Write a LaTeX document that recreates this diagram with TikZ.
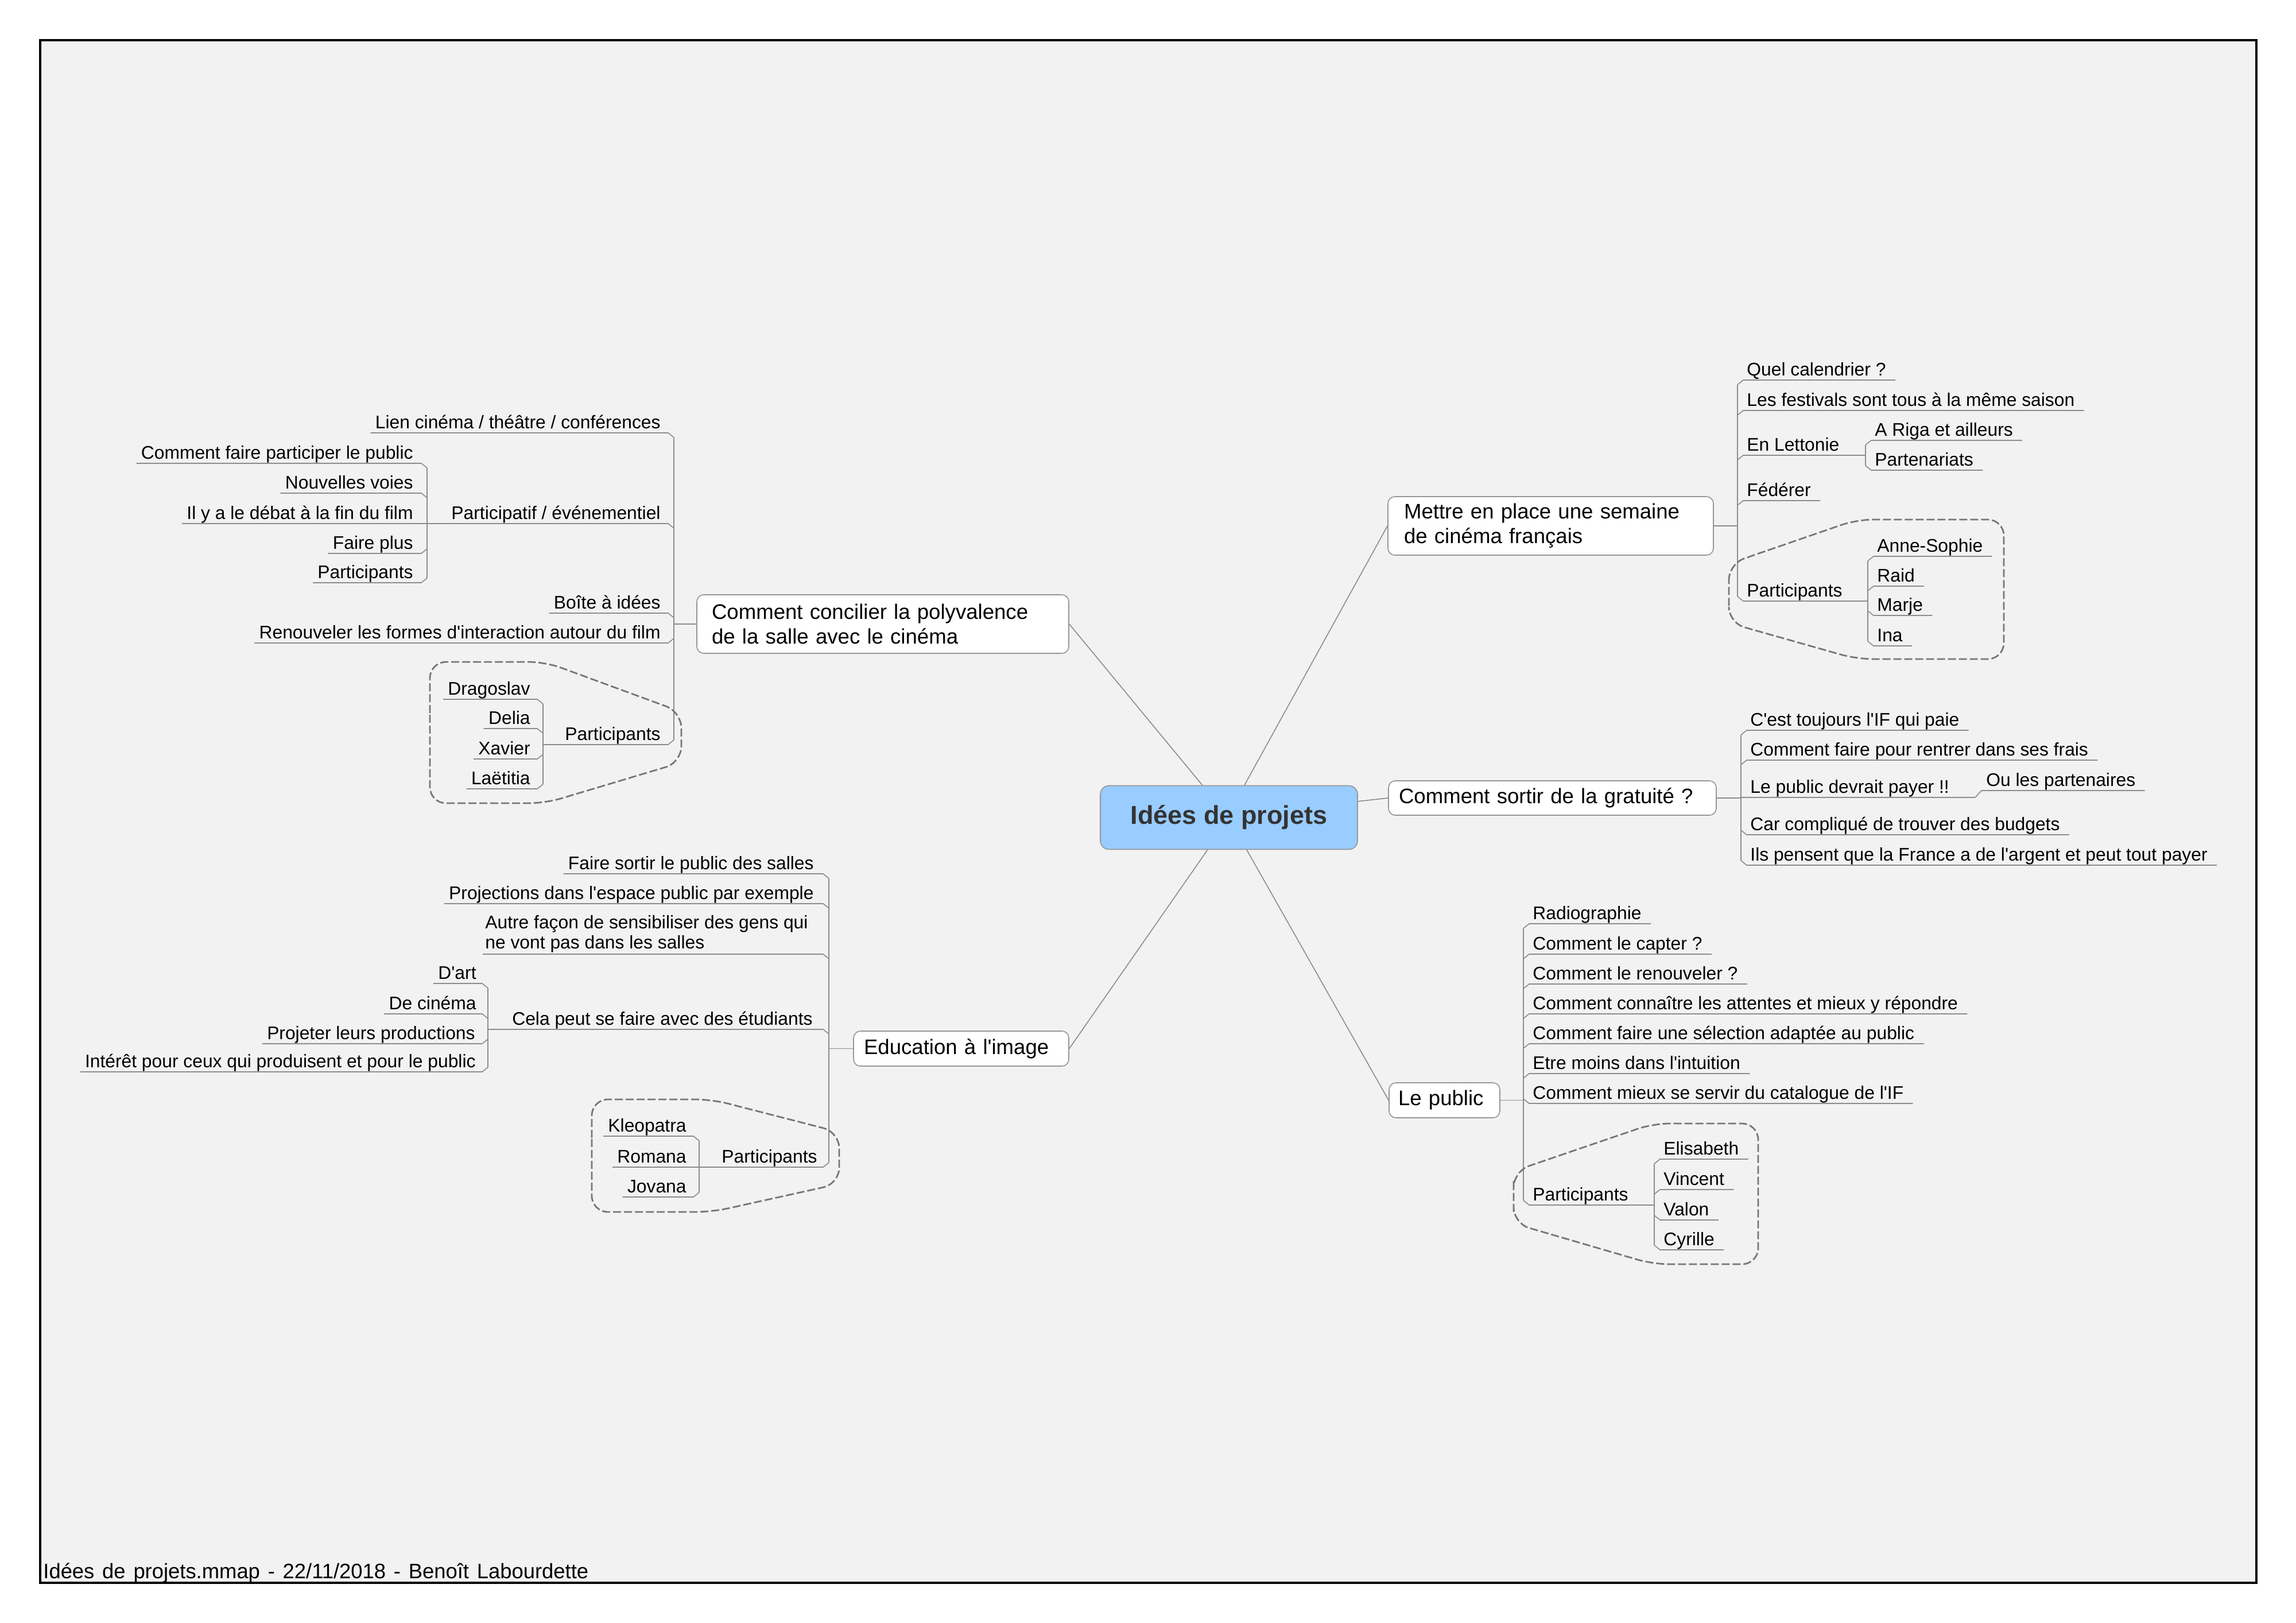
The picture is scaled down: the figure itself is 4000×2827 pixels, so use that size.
\documentclass[tikz,border=0pt]{standalone}
\usepackage{fontspec}
\setmainfont{Liberation Sans}
\usetikzlibrary{calc}
\definecolor{bgc}{RGB}{242,242,242}
\definecolor{linec}{RGB}{140,140,140}
\definecolor{boxc}{RGB}{150,150,150}
\definecolor{centerfill}{RGB}{153,204,255}
\definecolor{centertext}{RGB}{51,51,51}
\definecolor{dashc}{RGB}{118,118,118}
\newcommand\myap{\textquotesingle}
% right-side leaf: name, trunk x, underline y, sign, text
\newcommand\RLeaf[5]{%
  \node[leaf,anchor=base west] (#1) at ({#2+16},{#3-8}) {#5};
  \coordinate (#1-t) at ({#2},{#3+8*(#4)});
  \draw[conn] (#1-t) -- ({#2+10*abs(#4)},{#3}) -- ($(#1.base east)+(16,8)$);
}
\newcommand\RLeafTo[6]{%
  \node[leaf,anchor=base west] (#1) at ({#2+16},{#3-8}) {#5};
  \coordinate (#1-t) at ({#2},{#3+8*(#4)});
  \coordinate (#1-e) at ({#6},{#3});
  \draw[conn] (#1-t) -- ({#2+10*abs(#4)},{#3}) -- (#1-e);
}
% left-side leaf: name, trunk x, gap, underline y, sign, text
\newcommand\LLeaf[6]{%
  \node[leaf,anchor=base east] (#1) at ({#2-#3},{#4-8}) {#6};
  \coordinate (#1-t) at ({#2},{#4+8*(#5)});
  \draw[conn] (#1-t) -- ({#2-10*abs(#5)},{#4}) -- ($(#1.base west)+(-8,8)$);
}
\newcommand\LLeafTo[7]{%
  \node[leaf,anchor=base east] (#1) at ({#2-#3},{#4-8}) {#6};
  \coordinate (#1-t) at ({#2},{#4+8*(#5)});
  \coordinate (#1-e) at ({#7},{#4});
  \draw[conn] (#1-t) -- ({#2-10*abs(#5)},{#4}) -- (#1-e);
}
\tikzset{
  conn/.style={draw=linec, line width=0.8pt},
  leaf/.style={inner sep=0pt, font=\fontsize{15.9}{17.5}\selectfont, text=black},
  topic/.style={draw=boxc, fill=white, rounded corners=6pt, line width=0.8pt,
    font=\fontsize{18.3}{21.5}\selectfont, align=left, inner ysep=0pt, text=black},
  central/.style={draw=boxc, fill=centerfill, rounded corners=7.5pt, line width=0.8pt,
    font=\fontsize{22.5}{27}\selectfont\bfseries, text=centertext, align=center,
    minimum width=224pt, minimum height=55.5pt, inner sep=0pt},
  group/.style={draw=dashc, line width=1.4pt, dash pattern=on 7pt off 2.5pt, rounded corners=14pt}
}
\begin{document}
\begin{tikzpicture}[x=0.5pt,y=-0.5pt]
\useasboundingbox (0,0) rectangle (4000,2827);
\fill[white] (0,0) rectangle (4000,2827);
\draw[line width=2pt, fill=bgc] (70,70) rectangle (3931,2757);

% central and main topics
\node[central] (c) at (2141,1424) {Idées de projets};
\node[topic, minimum width=324pt, minimum height=51pt, inner xsep=13pt, text width=298pt] (t1) at (1538,1087)
  {Comment concilier la polyvalence\\de la salle avec le cinéma};
\node[topic, minimum width=283.5pt, minimum height=51pt, inner xsep=14pt, text width=255.5pt] (t2) at (2701.5,916)
  {Mettre en place une semaine\\de cinéma français};
\node[topic, minimum width=285.5pt, minimum height=30pt, inner xsep=9pt, text width=267.5pt] (t3) at (2704.5,1390)
  {Comment sortir de la gratuité ?};
\node[topic, minimum width=96.5pt, minimum height=30.5pt, inner xsep=8pt, text width=80.5pt] (t4) at (2516.5,1916.5)
  {Le public};
\node[topic, minimum width=187.5pt, minimum height=30.5pt, inner xsep=9pt, text width=169.5pt] (t5) at (1674.5,1826.5)
  {Education à l\myap image};

\draw[conn] ($(c.north west)!0.397!(c.north east)$) -- (t1.east);
\draw[conn] ($(c.north west)!0.56!(c.north east)$) -- (t2.west);
\draw[conn] ($(c.north east)!0.25!(c.south east)$) -- (t3.west);
\draw[conn] ($(c.south west)!0.569!(c.south east)$) -- (t4.west);
\draw[conn] ($(c.south west)!0.417!(c.south east)$) -- (t5.east);

% ---------- T1 : Comment concilier ----------
\LLeaf{la}{1174}{23}{754}{1}{Lien cinéma / théâtre / conférences}
\LLeafTo{lb}{1174}{23}{912}{1}{Participatif / événementiel}{744}
\LLeaf{lba}{744}{24}{807}{1}{Comment faire participer le public}
\LLeaf{lbb}{744}{24}{859}{1}{Nouvelles voies}
\LLeaf{lbc}{744}{24}{912}{0}{Il y a le débat à la fin du film}
\LLeaf{lbd}{744}{24}{964}{-1}{Faire plus}
\LLeaf{lbe}{744}{24}{1015}{-1}{Participants}
\draw[conn] (lba-t) -- (lbe-t);
\LLeaf{lc}{1174}{23}{1068}{1}{Boîte à idées}
\LLeaf{ld}{1174}{23}{1120}{-1}{Renouveler les formes d\myap interaction autour du film}
\LLeafTo{le}{1174}{23}{1297}{-1}{Participants}{946}
\LLeaf{lea}{946}{22}{1218}{1}{Dragoslav}
\LLeaf{leb}{946}{22}{1269}{1}{Delia}
\LLeaf{lec}{946}{22}{1322}{-1}{Xavier}
\LLeaf{led}{946}{22}{1374}{-1}{Laëtitia}
\draw[conn] (lea-t) -- (led-t);
\draw[conn] (la-t) -- (le-t);
\draw[conn] (t1.west) -- (t1.west -| la-t);
\draw[group] (749,1270) -- (749,1153) -- (950,1153) -- (1187,1240) -- (1187,1328) -- (950,1399) -- (749,1399) -- cycle;

% ---------- T5 : Education à l'image ----------
\LLeaf{ea}{1444}{26}{1522}{1}{Faire sortir le public des salles}
\LLeaf{eb}{1444}{26}{1574}{1}{Projections dans l\myap espace public par exemple}
\node[leaf, align=left, anchor=south west] (ec) at (845,1659)
  {Autre façon de sensibiliser des gens qui\\ne vont pas dans les salles};
\coordinate (ec-t) at (1444,1670);
\draw[conn] (ec-t) -- (1434,1662) -- ($(ec.south west)+(-4,3)$);
\LLeafTo{ed}{1444}{28}{1793}{1}{Cela peut se faire avec des étudiants}{850}
\LLeaf{eda}{850}{20}{1713}{1}{D\myap art}
\LLeaf{edb}{850}{20}{1766}{1}{De cinéma}
\LLeaf{edc}{850}{22}{1818}{-1}{Projeter leurs productions}
\LLeaf{edd}{850}{21}{1867}{-1}{Intérêt pour ceux qui produisent et pour le public}
\draw[conn] (eda-t) -- (edd-t);
\LLeafTo{ee}{1444}{20}{2033}{-1}{Participants}{1218}
\LLeaf{eea}{1218}{22}{1979}{1}{Kleopatra}
\LLeaf{eeb}{1218}{22}{2033}{0}{Romana}
\LLeaf{eec}{1218}{22}{2085}{-1}{Jovana}
\draw[conn] (eea-t) -- (eec-t);
\draw[conn] (ea-t) -- (ee-t);
\draw[conn] (t5.west) -- (t5.west -| ea-t);
\draw[group] (1031,2010) -- (1031,1915) -- (1240,1915) -- (1462,1972) -- (1462,2062) -- (1240,2111) -- (1031,2111) -- cycle;

% ---------- T2 : Mettre en place ----------
\RLeaf{ma}{3027}{662}{1}{Quel calendrier ?}
\RLeaf{mb}{3027}{715}{1}{Les festivals sont tous à la même saison}
\RLeafTo{mc}{3027}{793}{1}{En Lettonie}{3250}
\RLeaf{mca}{3250}{767}{1}{A Riga et ailleurs}
\RLeaf{mcb}{3250}{819}{-1}{Partenariats}
\draw[conn] (mca-t) -- (mcb-t);
\RLeaf{md}{3027}{872}{1}{Fédérer}
\RLeafTo{me}{3027}{1047}{-1}{Participants}{3254}
\RLeaf{mea}{3254}{969}{1}{Anne-Sophie}
\RLeaf{meb}{3254}{1021}{1}{Raid}
\RLeaf{mec}{3254}{1072}{-1}{Marje}
\RLeaf{med}{3254}{1125}{-1}{Ina}
\draw[conn] (mea-t) -- (med-t);
\draw[conn] (ma-t) -- (me-t);
\draw[conn] (t2.east) -- (t2.east -| ma-t);
\draw[group] (3012,1035) -- (3012,982) -- (3235,905) -- (3491,905) -- (3491,1148) -- (3235,1148) -- (3012,1085) -- cycle;

% ---------- T3 : Comment sortir ----------
\RLeaf{sa}{3033}{1272}{1}{C\myap est toujours l\myap IF qui paie}
\RLeaf{sb}{3033}{1324}{1}{Comment faire pour rentrer dans ses frais}
\RLeafTo{sc}{3033}{1389}{0}{Le public devrait payer !!}{3441}
\node[leaf,anchor=base west] (sca) at (3460,1369) {Ou les partenaires};
\draw[conn] (sc-e) -- (3452,1377) -- ($(sca.base east)+(16,8)$);
\RLeaf{sd}{3033}{1454}{-1}{Car compliqué de trouver des budgets}
\RLeaf{se}{3033}{1507}{-1}{Ils pensent que la France a de l\myap argent et peut tout payer}
\draw[conn] (sa-t) -- (se-t);
\draw[conn] (t3.east) -- (t3.east -| sa-t);

% ---------- T4 : Le public ----------
\RLeaf{pa}{2654}{1609}{1}{Radiographie}
\RLeaf{pb}{2654}{1662}{1}{Comment le capter ?}
\RLeaf{pc}{2654}{1714}{1}{Comment le renouveler ?}
\RLeaf{pd}{2654}{1766}{1}{Comment connaître les attentes et mieux y répondre}
\RLeaf{pe}{2654}{1818}{1}{Comment faire une sélection adaptée au public}
\RLeaf{pf}{2654}{1870}{1}{Etre moins dans l\myap intuition}
\RLeaf{pg}{2654}{1922}{-1}{Comment mieux se servir du catalogue de l\myap IF}
\RLeafTo{ph}{2654}{2099}{-1}{Participants}{2882}
\RLeaf{pha}{2882}{2019}{1}{Elisabeth}
\RLeaf{phb}{2882}{2072}{1}{Vincent}
\RLeaf{phc}{2882}{2125}{-1}{Valon}
\RLeaf{phd}{2882}{2177}{-1}{Cyrille}
\draw[conn] (pha-t) -- (phd-t);
\draw[conn] (pa-t) -- (ph-t);
\draw[conn] (t4.east) -- (t4.east -| pa-t);
\draw[group] (2637,2085) -- (2637,2040) -- (2880,1957) -- (3063,1957) -- (3063,2202) -- (2880,2202) -- (2637,2131) -- cycle;

% footer
\node[inner sep=0pt, anchor=base west, font=\fontsize{18.2}{20}\selectfont] (footer) at (75,2749)
  {\spaceskip=6.9pt plus 1pt Idées de projets.mmap - 22/11/2018 - Benoît Labourdette};
\end{tikzpicture}
\end{document}
